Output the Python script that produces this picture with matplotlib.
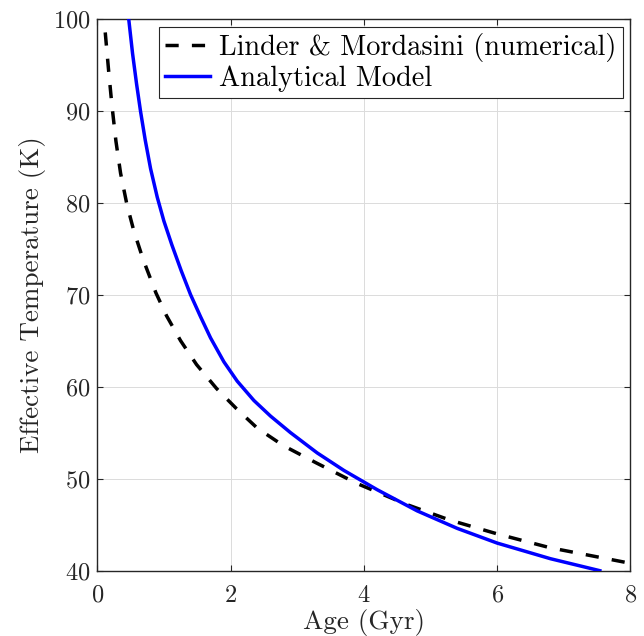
import matplotlib
matplotlib.use("Agg")
import matplotlib.pyplot as plt

# Linder & Mordasini (numerical)
age_lm = [0.12, 0.17, 0.22, 0.28, 0.35, 0.445, 0.55, 0.69, 0.88, 1.04, 1.25, 1.49,
          1.79, 2.09, 2.40, 2.79, 3.29, 3.89, 4.64, 5.29, 6.0, 6.79, 8.0]
temp_lm = [98.5, 94.4, 90.6, 86.7, 83.2, 79.8, 76.9, 73.8, 70.2, 67.7, 65.0, 62.4,
           59.8, 57.6, 55.5, 53.6, 51.7, 49.5, 47.2, 45.5, 44.0, 42.5, 40.8]

# Analytical model
age_an = [0.47, 0.53, 0.59, 0.65, 0.72, 0.80, 0.90, 1.00, 1.12, 1.26, 1.40, 1.55, 1.70,
          1.90, 2.10, 2.35, 2.60, 2.90, 3.30, 3.70, 4.20, 4.80, 5.40, 6.00, 6.80, 7.54]
temp_an = [100.1, 96.2, 92.9, 89.9, 86.8, 83.7, 80.6, 78.0, 75.4, 72.6, 70.0, 67.6, 65.3,
           62.7, 60.6, 58.5, 56.8, 55.0, 52.8, 50.9, 48.8, 46.5, 44.6, 43.0, 41.3, 40.0]

x_ticks = [0, 2, 4, 6, 8]
y_ticks = [40, 50, 60, 70, 80, 90, 100]

plt.rcParams['font.family'] = 'cmr10'
plt.rcParams['axes.formatter.use_mathtext'] = True
plt.rcParams['lines.scale_dashes'] = False

dark = (0.15, 0.15, 0.15)

fig = plt.figure(figsize=(6.44, 6.36), dpi=100)
ax = fig.add_axes([0.151, 0.1027, 0.828, 0.868])

ax.plot(age_lm, temp_lm, color='black', lw=2.5, linestyle=(0, (9.5, 9.5)),
        label='Linder & Mordasini (numerical)', zorder=3)
ax.plot(age_an, temp_an, color='blue', lw=2.5, label='Analytical Model', zorder=3)

ax.set_xlim(0, 8)
ax.set_ylim(40, 100)
ax.set_xticks(x_ticks)
ax.set_yticks(y_ticks)
ax.grid(True, color=(0.86, 0.86, 0.86), lw=0.7, zorder=0)
ax.set_axisbelow(True)

ax.tick_params(direction='in', top=True, right=True, length=4.5, width=0.8,
               colors=dark, labelsize=17.5)
ax.tick_params(axis='x', pad=10)
ax.tick_params(axis='y', pad=5)
for s in ax.spines.values():
    s.set_color(dark)
    s.set_linewidth(1.0)

ax.set_xlabel('Age (Gyr)', fontsize=19.5, color=dark, labelpad=2)
ax.set_ylabel('Effective Temperature (K)', fontsize=19.5, color=dark, labelpad=5)

leg = ax.legend(loc='upper right', fontsize=20.4, fancybox=False, framealpha=1,
                edgecolor=dark, borderaxespad=0.28, borderpad=0.22,
                handlelength=1.6, handletextpad=0.3, labelspacing=0.12)
leg.get_frame().set_linewidth(0.8)

fig.savefig('out.png', dpi=100)
